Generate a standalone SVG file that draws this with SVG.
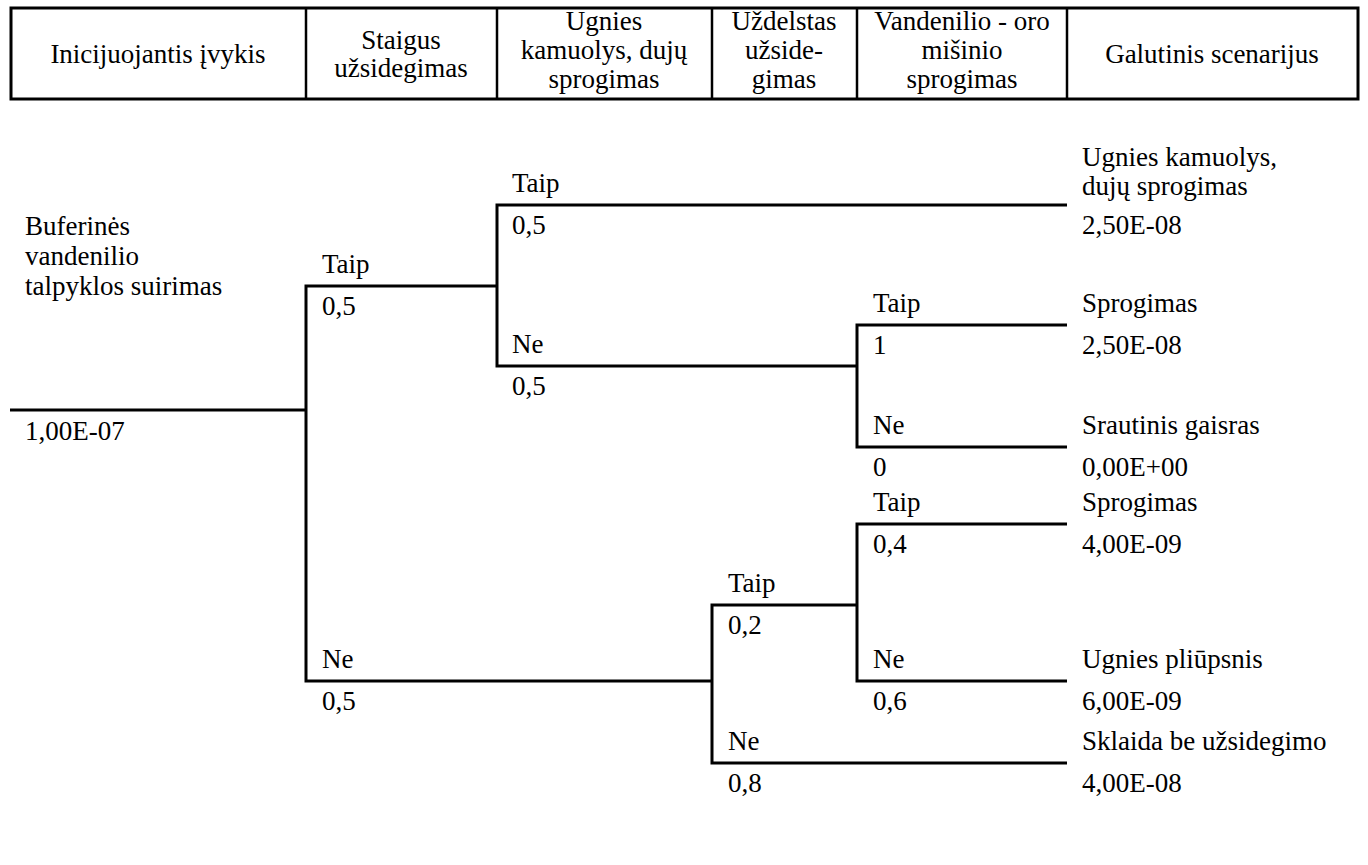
<svg xmlns="http://www.w3.org/2000/svg" width="1368" height="865" viewBox="0 0 1368 865" font-family="Liberation Serif, serif" font-size="27">
<style>
.c{text-anchor:middle}
.ln{stroke:#000;stroke-width:3;fill:none}
.dv{stroke:#000;stroke-width:2.5}
</style>
<rect width="1368" height="865" fill="#fff"/>
<g id="header" font-family="Liberation Serif, serif">
<rect x="11" y="8" width="1347" height="91" fill="none" stroke="#000" stroke-width="3"/>
<line class="dv" x1="306" y1="8" x2="306" y2="99"/>
<line class="dv" x1="497" y1="8" x2="497" y2="99"/>
<line class="dv" x1="712" y1="8" x2="712" y2="99"/>
<line class="dv" x1="857" y1="8" x2="857" y2="99"/>
<line class="dv" x1="1067" y1="8" x2="1067" y2="99"/>
<text class="c" font-family="Liberation Serif, serif" x="158" y="63">Inicijuojantis įvykis</text>
<text class="c" font-family="Liberation Serif, serif" x="401" y="49">Staigus</text>
<text class="c" font-family="Liberation Serif, serif" x="401" y="77">užsidegimas</text>
<text class="c" font-family="Liberation Serif, serif" x="604" y="30">Ugnies</text>
<text class="c" font-family="Liberation Serif, serif" x="604" y="59">kamuolys, dujų</text>
<text class="c" font-family="Liberation Serif, serif" x="604" y="88">sprogimas</text>
<text class="c" font-family="Liberation Serif, serif" x="784" y="30">Uždelstas</text>
<text class="c" font-family="Liberation Serif, serif" x="784" y="59">užside-</text>
<text class="c" font-family="Liberation Serif, serif" x="784" y="88">gimas</text>
<text class="c" font-family="Liberation Serif, serif" x="962" y="30">Vandenilio - oro</text>
<text class="c" font-family="Liberation Serif, serif" x="962" y="59">mišinio</text>
<text class="c" font-family="Liberation Serif, serif" x="962" y="88">sprogimas</text>
<text class="c" font-family="Liberation Serif, serif" x="1212" y="63">Galutinis scenarijus</text>
</g>
<g id="connectors">
<path class="ln" d="M10 410H306"/>
<path class="ln" d="M497 286H306V681H712"/>
<path class="ln" d="M1067 205H497V366H857"/>
<path class="ln" d="M1067 325H857V447H1067"/>
<path class="ln" d="M857 605H712V763H1067"/>
<path class="ln" d="M1067 524H857V681H1067"/>
</g>
<g id="initiating-event" font-family="Liberation Serif, serif">
<text font-family="Liberation Serif, serif" x="25" y="235">Buferinės</text>
<text font-family="Liberation Serif, serif" x="25" y="265">vandenilio</text>
<text font-family="Liberation Serif, serif" x="25" y="295">talpyklos suirimas</text>
<text font-family="Liberation Serif, serif" x="25" y="440">1,00E-07</text>
</g>
<g id="immediate-ignition" font-family="Liberation Serif, serif">
<text font-family="Liberation Serif, serif" x="322" y="273">Taip</text>
<text font-family="Liberation Serif, serif" x="322" y="315">0,5</text>
<text font-family="Liberation Serif, serif" x="322" y="668">Ne</text>
<text font-family="Liberation Serif, serif" x="322" y="710">0,5</text>
</g>
<g id="fireball" font-family="Liberation Serif, serif">
<text font-family="Liberation Serif, serif" x="512" y="192">Taip</text>
<text font-family="Liberation Serif, serif" x="512" y="234">0,5</text>
<text font-family="Liberation Serif, serif" x="512" y="353">Ne</text>
<text font-family="Liberation Serif, serif" x="512" y="395">0,5</text>
</g>
<g id="delayed-ignition" font-family="Liberation Serif, serif">
<text font-family="Liberation Serif, serif" x="728" y="592">Taip</text>
<text font-family="Liberation Serif, serif" x="728" y="634">0,2</text>
<text font-family="Liberation Serif, serif" x="728" y="750">Ne</text>
<text font-family="Liberation Serif, serif" x="728" y="792">0,8</text>
</g>
<g id="explosion-upper" font-family="Liberation Serif, serif">
<text font-family="Liberation Serif, serif" x="873" y="312">Taip</text>
<text font-family="Liberation Serif, serif" x="873" y="354">1</text>
<text font-family="Liberation Serif, serif" x="873" y="434">Ne</text>
<text font-family="Liberation Serif, serif" x="873" y="476">0</text>
</g>
<g id="explosion-lower" font-family="Liberation Serif, serif">
<text font-family="Liberation Serif, serif" x="873" y="511">Taip</text>
<text font-family="Liberation Serif, serif" x="873" y="553">0,4</text>
<text font-family="Liberation Serif, serif" x="873" y="668">Ne</text>
<text font-family="Liberation Serif, serif" x="873" y="710">0,6</text>
</g>
<g id="outcomes" font-family="Liberation Serif, serif">
<text font-family="Liberation Serif, serif" x="1082" y="166">Ugnies kamuolys,</text>
<text font-family="Liberation Serif, serif" x="1082" y="195">dujų sprogimas</text>
<text font-family="Liberation Serif, serif" x="1082" y="234">2,50E-08</text>
<text font-family="Liberation Serif, serif" x="1082" y="312">Sprogimas</text>
<text font-family="Liberation Serif, serif" x="1082" y="354">2,50E-08</text>
<text font-family="Liberation Serif, serif" x="1082" y="434">Srautinis gaisras</text>
<text font-family="Liberation Serif, serif" x="1082" y="476">0,00E+00</text>
<text font-family="Liberation Serif, serif" x="1082" y="511">Sprogimas</text>
<text font-family="Liberation Serif, serif" x="1082" y="553">4,00E-09</text>
<text font-family="Liberation Serif, serif" x="1082" y="668">Ugnies pliūpsnis</text>
<text font-family="Liberation Serif, serif" x="1082" y="710">6,00E-09</text>
<text font-family="Liberation Serif, serif" x="1082" y="750">Sklaida be užsidegimo</text>
<text font-family="Liberation Serif, serif" x="1082" y="792">4,00E-08</text>
</g>
</svg>
